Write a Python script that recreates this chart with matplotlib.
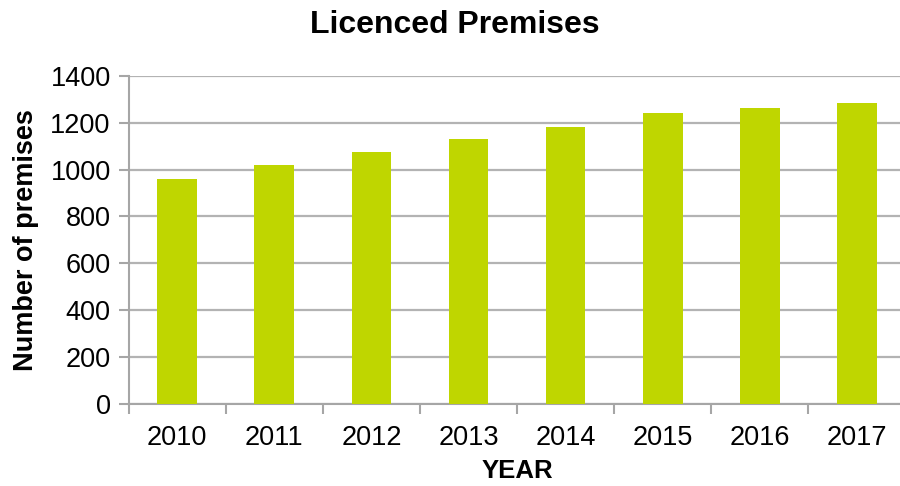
import matplotlib.pyplot as plt

# Data
years = ['2010', '2011', '2012', '2013', '2014', '2015', '2016', '2017']
premises = [958, 1019, 1074, 1130, 1180, 1242, 1263, 1286]

plt.rcParams['font.family'] = ['Liberation Sans', 'DejaVu Sans']

fig = plt.figure(figsize=(9, 4.86), dpi=100)
ax = fig.add_axes([0.143, 0.169, 0.863, 0.675])

x = range(len(years))
ax.bar(x, premises, width=0.41, color='#bfd600', zorder=3)

ax.set_xlim(-0.5, len(years) - 0.5)
ax.set_ylim(0, 1400)
ax.set_yticks(range(0, 1401, 200))
ax.yaxis.grid(True, color='#b3b3b3', linewidth=1.6, zorder=0)

# category labels centred, tick marks between categories
ax.set_xticks(list(x))
ax.set_xticklabels(years)
ax.set_xticks([i - 0.5 for i in range(len(years) + 1)], minor=True)
ax.tick_params(axis='x', which='major', length=0, labelsize=19.5, pad=15)
ax.tick_params(axis='x', which='minor', length=7, width=1.5, color='#a6a6a6', direction='out')
ax.tick_params(axis='y', length=7, width=1.5, color='#a6a6a6', labelsize=19.5, pad=6)

for side in ['top', 'right']:
    ax.spines[side].set_visible(False)
for side in ['left', 'bottom']:
    ax.spines[side].set_color('#a6a6a6')
    ax.spines[side].set_linewidth(1.5)

fig.text(0.505, 0.948, 'Licenced Premises', fontsize=23, fontweight='bold',
         ha='center', va='center')
ax.set_xlabel('YEAR', fontsize=18.5, fontweight='bold', labelpad=6)
ax.set_ylabel('Number of premises', fontsize=19.5, fontweight='bold', labelpad=8)

plt.savefig('out.png', dpi=100)
plt.close()
